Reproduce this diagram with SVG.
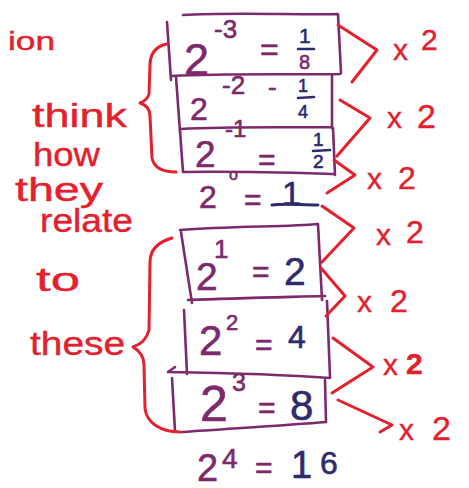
<svg xmlns="http://www.w3.org/2000/svg" width="469" height="488" viewBox="0 0 469 488">
<style>
.red{fill:none;stroke:#e3202c;stroke-width:3;stroke-linecap:round;stroke-linejoin:round}
.box{fill:none;stroke:#7d2a6c;stroke-width:2.6;stroke-linecap:round;stroke-linejoin:round}
.rt{fill:#e3202c;stroke:#e3202c;stroke-width:0.4;font-family:"Liberation Sans",Arial,sans-serif}
.pt{fill:#7d2a6c;stroke:#7d2a6c;stroke-width:0.6;font-family:"Liberation Sans",Arial,sans-serif}
.nt{fill:#2e2a6e;stroke:#2e2a6e;stroke-width:0.6;font-family:"Liberation Sans",Arial,sans-serif}
.lbl{font-size:30px}
</style>
<rect width="469" height="488" fill="#ffffff"/>

<g id="note">
<text class="rt" x="8" y="50" font-size="26" textLength="47" lengthAdjust="spacingAndGlyphs">ion</text>
<text class="rt" x="32" y="127" font-size="33" textLength="95" lengthAdjust="spacingAndGlyphs">think</text>
<text class="rt" x="33" y="166" font-size="33" textLength="67" lengthAdjust="spacingAndGlyphs">how</text>
<text class="rt" x="15" y="201" font-size="33" textLength="88" lengthAdjust="spacingAndGlyphs">they</text>
<text class="rt" x="40" y="232" font-size="33" textLength="93" lengthAdjust="spacingAndGlyphs">relate</text>
<text class="rt" x="36" y="291" font-size="33" textLength="44" lengthAdjust="spacingAndGlyphs">to</text>
<text class="rt" x="30" y="355" font-size="33" textLength="95" lengthAdjust="spacingAndGlyphs">these</text>
</g>

<g id="box-neg3">
<path class="box" d="M183,15 C230,12 300,15 338,14 L341,73 M167,22 L171,80 M172,76 C230,73 300,75 340,74"/>
<text class="pt" x="184" y="75" font-size="45">2</text>
<text class="pt" x="214" y="38" font-size="26">-3</text>
<text class="pt" x="260" y="60" font-size="32">=</text>
<text class="nt" x="299" y="43" font-size="21">1</text>
<path d="M298,49 L314,49" stroke="#2e2a6e" stroke-width="2.5" stroke-linecap="round"/>
<text class="pt" x="299" y="69" font-size="20">8</text>
</g>

<g id="box-neg2">
<path class="box" d="M176,77 L180,132 M332,76 L332,128 M180,129 C240,126 300,128 332,127"/>
<text class="pt" x="190" y="120" font-size="32">2</text>
<text class="pt" x="222" y="94" font-size="26">-2</text>
<text class="pt" x="268" y="96" font-size="26">-</text>
<text class="nt" x="298" y="92" font-size="18">1</text>
<path d="M298,98 L314,97" stroke="#2e2a6e" stroke-width="2.5" stroke-linecap="round"/>
<text class="nt" x="298" y="118" font-size="18">4</text>
</g>

<g id="box-neg1">
<path class="box" d="M180,131 L183,172 M333,128 L335,175 M183,172 C240,171 300,173 335,174"/>
<text class="pt" x="195" y="167" font-size="37">2</text>
<text class="pt" x="225" y="137" font-size="24">-1</text>
<text class="pt" x="258" y="170" font-size="30">=</text>
<text class="nt" x="313" y="146" font-size="19">1</text>
<path d="M313,151 L330,150" stroke="#2e2a6e" stroke-width="2.5" stroke-linecap="round"/>
<text class="nt" x="313" y="168" font-size="19">2</text>
</g>

<g id="zero">
<text class="pt" x="199" y="208" font-size="32">2</text>
<text class="pt" x="229" y="180" font-size="16">o</text>
<text class="pt" x="244" y="210" font-size="30">=</text>
<text class="nt" x="282" y="205" font-size="34">1</text>
<path d="M272,205 C285,203 300,205 318,205" stroke="#2e2a6e" stroke-width="3" stroke-linecap="round" fill="none"/>
</g>

<g id="box-1">
<path class="box" d="M180,230 C230,226 290,227 318,224 L322,300 M181,232 L192,303 M188,300 C240,298 290,297 325,296"/>
<text class="pt" x="196" y="290" font-size="39">2</text>
<text class="pt" x="214" y="258" font-size="26">1</text>
<text class="pt" x="252" y="282" font-size="30">=</text>
<text class="nt" x="284" y="285" font-size="39">2</text>
</g>

<g id="box-2">
<path class="box" d="M184,310 L187,374 M327,301 L330,377"/>
<text class="pt" x="199" y="355" font-size="42">2</text>
<text class="pt" x="226" y="330" font-size="22">2</text>
<text class="pt" x="255" y="355" font-size="30">=</text>
<text class="nt" x="288" y="348" font-size="32">4</text>
</g>

<g id="box-3">
<path class="box" d="M168,372 L175,367 M168,372 C230,373 290,375 330,378 M172,378 L175,431 M182,432 C240,428 290,425 326,422 L325,380"/>
<text class="pt" x="200" y="421" font-size="50">2</text>
<text class="pt" x="232" y="391" font-size="25">3</text>
<text class="pt" x="258" y="418" font-size="30">=</text>
<text class="nt" x="290" y="420" font-size="42">8</text>
</g>

<g id="four">
<text class="pt" x="197" y="481" font-size="38">2</text>
<text class="pt" x="222" y="468" font-size="28">4</text>
<text class="pt" x="255" y="478" font-size="30">=</text>
<text class="nt" x="291" y="478" font-size="38">1</text>
<text class="nt" x="320" y="474" font-size="32">6</text>
</g>

<g id="connectors">
<path class="red" d="M167,44 C155,46 150,55 150,65 L149,94 C148,98 145,101 140,103 C146,105 150,109 150,116 L152,158 C154,168 163,172 176,172"/>
<path class="red" d="M172,238 C158,242 150,250 150,262 L149,330 C147,338 142,344 133,347 C140,351 144,356 144,365 L145,408 C146,422 160,432 180,432"/>
<path class="red" d="M338,25 L377,50 L352,82"/>
<path class="red" d="M340,100 L370,118 L337,156"/>
<path class="red" d="M334,160 L355,175 L327,193"/>
<path class="red" d="M322,206 L354,228 L322,262"/>
<path class="red" d="M321,268 L345,296 L326,316"/>
<path class="red" d="M333,338 L373,367 L332,393"/>
<path class="red" d="M338,400 L392,425 L380,432"/>
</g>

<g id="labels">
<text class="rt lbl" x="393" y="60" font-size="28">x</text>
<text class="rt" x="421" y="50" font-size="30">2</text>
<text class="rt lbl" x="387" y="128" font-size="30">x</text>
<text class="rt" x="417" y="128" font-size="34">2</text>
<text class="rt lbl" x="367" y="189">x</text>
<text class="rt" x="398" y="189" font-size="32">2</text>
<text class="rt lbl" x="376" y="245">x</text>
<text class="rt" x="406" y="243" font-size="32">2</text>
<text class="rt lbl" x="357" y="312">x</text>
<text class="rt" x="390" y="312" font-size="32">2</text>
<text class="rt lbl" x="383" y="375">x</text>
<text class="rt" x="406" y="374" font-size="30" font-weight="bold">2</text>
<text class="rt lbl" x="399" y="440">x</text>
<text class="rt" x="432" y="440" font-size="34">2</text>
</g>
</svg>
